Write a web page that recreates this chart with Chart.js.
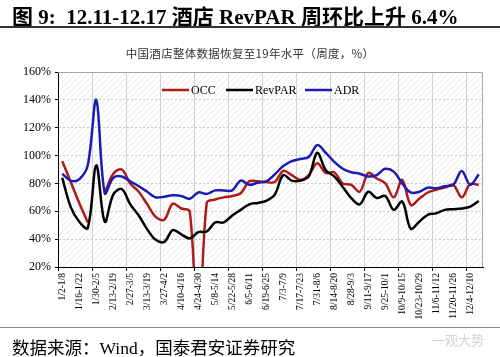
<!DOCTYPE html>
<html>
<head>
<meta charset="utf-8">
<script src="https://cdn.jsdelivr.net/npm/chart.js@4"></script>
<style>
	body { margin: 0; width: 500px; height: 357px; background: #fff; position: relative; overflow: hidden; }
	#canvas-holder { position: absolute; left: 0; top: 0; width: 500px; height: 357px; }
	.title { position: absolute; left: 12px; top: 0px; font: bold 21px "Liberation Serif", "Noto Sans CJK SC", serif; color: #000; white-space: nowrap; }
	.rule-top { position: absolute; left: 0; top: 26px; width: 500px; height: 2px; background: #333; }
	.subtitle { position: absolute; left: 0; width: 500px; top: 45px; text-align: center; font: 11.5px "Noto Sans CJK SC", "Liberation Serif", serif; color: #333; letter-spacing: 0.3px; }
	.rule-bottom { position: absolute; left: 0; top: 327px; width: 500px; height: 1px; background: #888; }
	.source { position: absolute; left: 12px; top: 334px; font: 17.5px "Liberation Serif", "Noto Sans CJK SC", serif; color: #000; white-space: nowrap; }
	.mark { position: absolute; left: 432px; top: 330px; font: 13px "Noto Sans CJK SC", sans-serif; color: #d0d0d0; }
</style>
</head>
<body>
<div id="canvas-holder"><canvas id="graphHotel" width="500" height="357"></canvas></div>
<div class="title">图 9:&nbsp; 12.11-12.17 酒店 RevPAR 周环比上升 6.4%</div>
<div class="rule-top"></div>
<div class="subtitle">中国酒店整体数据恢复至19年水平（周度，%）</div>
<div class="rule-bottom"></div>
<div class="source">数据来源：Wind，国泰君安证券研究</div>
<div class="mark">一观大势</div>
<script>
var weeks = [
	'1/2-1/8', '1/9-1/15', '1/16-1/22', '1/23-1/29', '1/30-2/5', '2/6-2/12', '2/13-2/19', '2/20-2/26',
	'2/27-3/5', '3/6-3/12', '3/13-3/19', '3/20-3/26', '3/27-4/2', '4/3-4/9', '4/10-4/16', '4/17-4/23',
	'4/24-4/30', '5/1-5/7', '5/8-5/14', '5/15-5/21', '5/22-5/28', '5/29-6/4', '6/5-6/11', '6/12-6/18',
	'6/19-6/25', '6/26-7/2', '7/3-7/9', '7/10-7/16', '7/17-7/23', '7/24-7/30', '7/31-8/6', '8/7-8/13',
	'8/14-8/20', '8/21-8/27', '8/28-9/3', '9/4-9/10', '9/11-9/17', '9/18-9/24', '9/25-10/1', '10/2-10/8',
	'10/9-10/15', '10/16-10/22', '10/23-10/29', '10/30-11/5', '11/6-11/12', '11/13-11/19', '11/20-11/26', '11/27-12/3',
	'12/4-12/10', '12/11-12/17'
];

var occValues = [
	96, 81, 66, 52, null, 73, 87, 90, 80, 74,
	65, 56, 54, 65.5, 62, 60, -35, 66, 68.5, 70,
	71, 73, 81.5, 81.5, 81, 81, 89, 86, 82.5, 86,
	94.5, 87.5, 88, 80, 79, 74, 87.5, 83.5, 80, 70,
	82.5, 64.5, 69, 73.5, 75.5, 77, 79, 70, 79.5, 79
];

var revparValues = [
	84, 63, 52.5, 48, 93, 52.5, 72, 76, 65, 57,
	47, 39.5, 38, 46.5, 43.5, 40.5, 45, 45.5, 52, 52,
	57, 61, 65, 66, 67.5, 72, 86, 82, 82, 85,
	102, 89.5, 85, 77.5, 69.5, 65, 74, 69.5, 71, 61,
	67, 47.5, 52.5, 57.5, 58.5, 61, 61.5, 62, 63.3, 67.4
];

var adrValues = [
	87, 82, 83, 93, 140, 73, 84, 85, 81.5, 78,
	74, 70, 70.5, 71.5, 71, 69, 73.5, 72.5, 75, 75,
	75, 82, 79, 80.5, 81.5, 86.5, 92.5, 96, 97.5, 99,
	107.5, 102, 95.5, 90.5, 88, 87, 85, 86, 90.5, 88.5,
	80, 73.5, 74, 77, 76.5, 78, 79, 89, 79, 86.5
];

var seriesNames = ['OCC', 'RevPAR', 'ADR'];
var seriesColors = ['#b01a1a', '#000000', '#1c1cb4'];

var hatch = document.createElement('canvas');
hatch.width = 6;
hatch.height = 6;
var hctx = hatch.getContext('2d');
hctx.strokeStyle = 'rgba(0,0,0,0.08)';
hctx.lineWidth = 1;
hctx.beginPath();
hctx.moveTo(0, 6); hctx.lineTo(6, 0);
hctx.moveTo(-1, 1); hctx.lineTo(1, -1);
hctx.moveTo(5, 7); hctx.lineTo(7, 5);
hctx.stroke();

var plotBackground = {
	id: 'plotBackground',
	beforeDraw: function(chart) {
		var a = chart.chartArea, ctx = chart.ctx;
		ctx.save();
		ctx.fillStyle = ctx.createPattern(hatch, 'repeat');
		ctx.fillRect(a.left, a.top, a.right - a.left, a.bottom - a.top);
		ctx.restore();
	},
	beforeDatasetsDraw: function(chart) {
		var a = chart.chartArea, ctx = chart.ctx;
		ctx.save();
		ctx.strokeStyle = '#a6a6a6';
		ctx.lineWidth = 1;
		ctx.beginPath();
		ctx.moveTo(a.left, a.top + 0.5);
		ctx.lineTo(a.right - 0.5, a.top + 0.5);
		ctx.lineTo(a.right - 0.5, a.bottom);
		ctx.stroke();
		ctx.restore();
	}
};

// legend sits inside the plot, top middle
var innerLegend = {
	id: 'innerLegend',
	afterDraw: function(chart) {
		var ctx = chart.ctx;
		var xs = [162, 226, 305];
		var y = 90;
		ctx.save();
		ctx.font = '12px "Liberation Serif", serif';
		ctx.textBaseline = 'middle';
		ctx.fillStyle = '#000';
		seriesNames.forEach(function(name, i) {
			ctx.strokeStyle = seriesColors[i];
			ctx.lineWidth = 2.5;
			ctx.beginPath();
			ctx.moveTo(xs[i], y);
			ctx.lineTo(xs[i] + 27, y);
			ctx.stroke();
			ctx.fillText(name, xs[i] + 29, y + 0.5);
		});
		ctx.restore();
	}
};

function makeSeries(i, values, order) {
	return {
		label: seriesNames[i],
		data: values,
		borderColor: seriesColors[i],
		borderWidth: 2.5,
		pointRadius: 0,
		tension: 0.35,
		spanGaps: false,
		order: order
	};
}

var ctx = document.getElementById('graphHotel').getContext('2d');
var hotelChart = new Chart(ctx, {
	type: 'line',
	data: {
		labels: weeks,
		datasets: [
			makeSeries(0, occValues, 2),
			makeSeries(1, revparValues, 1),
			makeSeries(2, adrValues, 0)
		]
	},
	plugins: [plotBackground, innerLegend],
	options: {
		responsive: false,
		animation: false,
		events: [],
		layout: { padding: { top: 72, right: 17, bottom: 30, left: 0 } },
		plugins: { legend: { display: false }, tooltip: { enabled: false }, title: { display: false } },
		scales: {
			x: {
				offset: true,
				afterFit: function(scale) { scale.height = 60; },
				grid: {
					offset: true,
					color: function(c) { return c.index % 4 === 0 ? '#d0d0d0' : 'rgba(0,0,0,0)'; },
					tickColor: function(c) { return c.index % 4 === 0 ? '#000' : 'rgba(0,0,0,0)'; },
					tickLength: 4
				},
				border: { color: '#000', width: 1 },
				ticks: {
					autoSkip: false,
					minRotation: 90,
					maxRotation: 90,
					padding: 2,
					color: '#000',
					font: { family: '"Liberation Serif", serif', size: 9.5 },
					callback: function(v, i) { return i % 2 === 0 ? weeks[i] : ''; }
				}
			},
			y: {
				min: 20,
				max: 160,
				afterFit: function(scale) { scale.width = 58; },
				grid: { color: '#c8c8c8', tickColor: '#000', tickLength: 3 },
				border: { color: '#000', width: 1, dash: [2, 2] },
				ticks: {
					stepSize: 20,
					padding: 4,
					color: '#000',
					font: { family: '"Liberation Serif", serif', size: 12 },
					callback: function(v) { return v + '%'; }
				}
			}
		}
	}
});
</script>
</body>
</html>
